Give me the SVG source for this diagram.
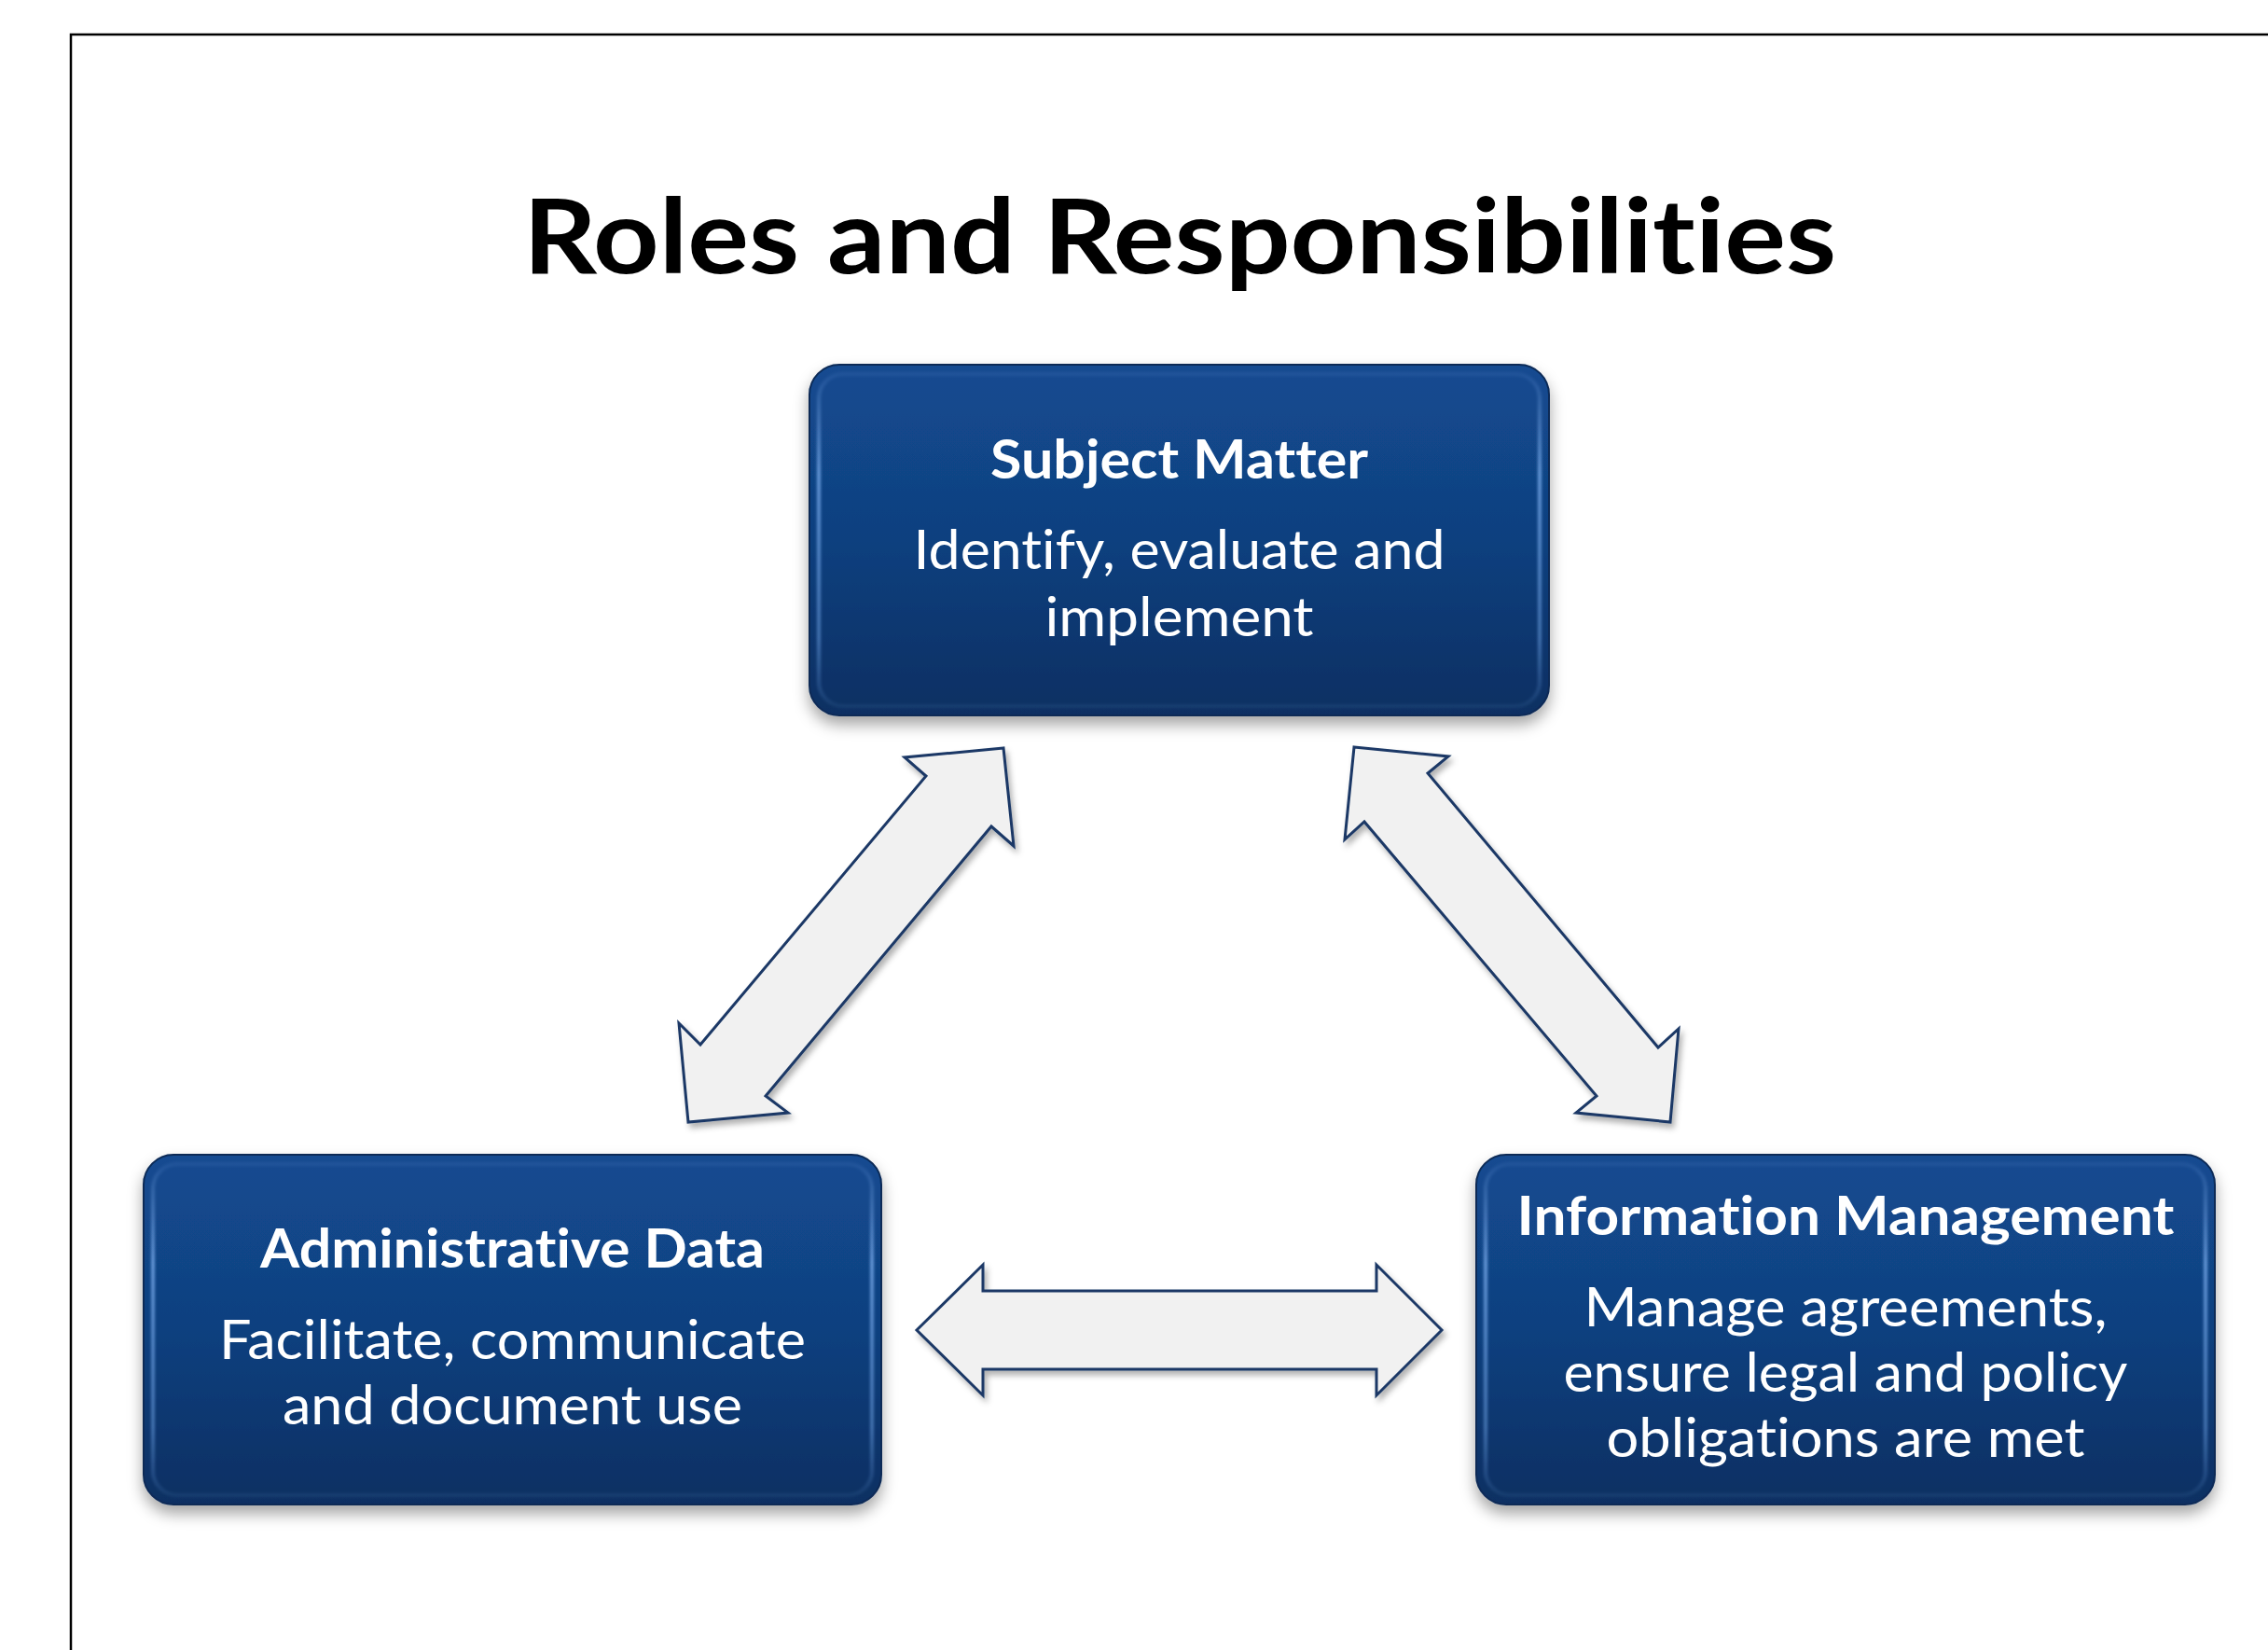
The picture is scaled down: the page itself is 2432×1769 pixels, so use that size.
<svg xmlns="http://www.w3.org/2000/svg" width="2432" height="1769" viewBox="0 0 2432 1769">
<defs>
<linearGradient id="boxFill" x1="0" y1="0" x2="0" y2="1">
<stop offset="0" stop-color="#134b91"/>
<stop offset="0.5" stop-color="#10407f"/>
<stop offset="1" stop-color="#0b2f62"/>
</linearGradient>
<linearGradient id="bevel" x1="0" y1="0" x2="0" y2="1">
<stop offset="0" stop-color="#7fb0f0" stop-opacity="0.1"/>
<stop offset="0.3" stop-color="#7fb0f0" stop-opacity="0.75"/>
<stop offset="0.8" stop-color="#6a9ee0" stop-opacity="0.55"/>
<stop offset="1" stop-color="#6a9ee0" stop-opacity="0.1"/>
</linearGradient>
<filter id="boxShadow" x="-10%" y="-10%" width="120%" height="130%">
<feDropShadow dx="0" dy="9" stdDeviation="8" flood-color="#000" flood-opacity="0.35"/>
</filter>
<filter id="arrowShadow" x="-10%" y="-10%" width="120%" height="120%">
<feDropShadow dx="3" dy="5" stdDeviation="3" flood-color="#000" flood-opacity="0.3"/>
</filter>
<filter id="soft"><feGaussianBlur stdDeviation="1.5"/></filter>
</defs>
<style>
text{font-variant-ligatures:none;font-feature-settings:"liga" 0,"clig" 0}
.box{fill:url(#boxFill);stroke:#0a2a57;stroke-width:2;filter:url(#boxShadow)}
.bev{fill:none;stroke:url(#bevel);stroke-width:4;filter:url(#soft)}
.arrow{fill:#f1f1f1;stroke:#1b3966;stroke-width:3;stroke-linejoin:miter;filter:url(#arrowShadow)}
.head{font-family:Lato,"Liberation Sans",sans-serif;font-weight:bold;fill:#fff;text-anchor:middle;font-size:57px}
.body{font-family:Lato,"Liberation Sans",sans-serif;fill:#fff;text-anchor:middle;font-size:58px}
.title{font-family:Lato,"Liberation Sans",sans-serif;font-weight:bold;fill:#000;text-anchor:middle;font-size:112px}
</style>
<rect width="2432" height="1769" fill="#fff"/>
<path d="M76,1769 V37 H2432" fill="none" stroke="#000" stroke-width="2.5"/>
<text class="title" x="1265" y="293" textLength="1408" lengthAdjust="spacingAndGlyphs">Roles and Responsibilities</text>

<g id="connectors">
<polygon class="arrow" points="1076,802 970,812 993,832 751,1120 728,1097 738,1203 845,1193 821,1175 1063,886 1087,907"/>
<polygon class="arrow" points="1452,801 1553,811 1531,829 1778,1123 1800,1103 1791,1203 1690,1193 1712,1175 1463,881 1442,900"/>
<polygon class="arrow" points="983,1426 1054,1356 1054,1384 1476,1384 1476,1356 1546,1426 1476,1496 1476,1468 1054,1468 1054,1496"/>
</g>

<g id="subject-matter">
<rect class="box" x="868" y="391" width="793" height="376" rx="32"/>
<rect class="bev" x="878" y="401" width="773" height="356" rx="26"/>
<text class="head" x="1264.5" y="513" textLength="405" lengthAdjust="spacingAndGlyphs">Subject Matter</text>
<text class="body" x="1264.5" y="610" textLength="570" lengthAdjust="spacingAndGlyphs">Identify, evaluate and</text>
<text class="body" x="1264.5" y="682" textLength="288" lengthAdjust="spacingAndGlyphs">implement</text>
</g>

<g id="administrative-data">
<rect class="box" x="154" y="1238" width="791" height="375" rx="32"/>
<rect class="bev" x="164" y="1248" width="771" height="355" rx="26"/>
<text class="head" x="549.5" y="1359" textLength="541" lengthAdjust="spacingAndGlyphs">Administrative Data</text>
<text class="body" x="549.5" y="1457" textLength="629" lengthAdjust="spacingAndGlyphs">Facilitate, communicate</text>
<text class="body" x="549.5" y="1527" textLength="493" lengthAdjust="spacingAndGlyphs">and document use</text>
</g>

<g id="information-management">
<rect class="box" x="1583" y="1238" width="792" height="375" rx="32"/>
<rect class="bev" x="1593" y="1248" width="772" height="355" rx="26"/>
<text class="head" x="1979" y="1324" textLength="705" lengthAdjust="spacingAndGlyphs">Information Management</text>
<text class="body" x="1979" y="1422" textLength="561" lengthAdjust="spacingAndGlyphs">Manage agreements,</text>
<text class="body" x="1979" y="1492" textLength="605" lengthAdjust="spacingAndGlyphs">ensure legal and policy</text>
<text class="body" x="1979" y="1562" textLength="513" lengthAdjust="spacingAndGlyphs">obligations are met</text>
</g>
</svg>
